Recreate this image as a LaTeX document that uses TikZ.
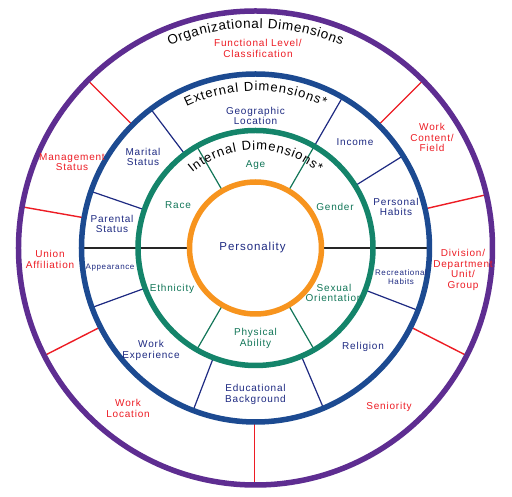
\documentclass[tikz,border=0pt]{standalone}
\usepackage{fontspec}
\setmainfont[LetterSpace=8]{Liberation Sans}
\newfontfamily\titlefont{Liberation Sans}
\usetikzlibrary{decorations.text}
\definecolor{ringpurple}{RGB}{94,45,145}
\definecolor{ringblue}{RGB}{28,74,145}
\definecolor{ringgreen}{RGB}{20,132,106}
\definecolor{ringorange}{RGB}{247,148,30}
\definecolor{labred}{RGB}{237,28,36}
\definecolor{labnavy}{RGB}{30,42,130}
\definecolor{labgreen}{RGB}{18,118,88}
\tikzset{
  ring/.style={line width=5.5pt},
  blackdiv/.style={draw=black!85, line width=1.2pt},
  greendiv/.style={draw=labgreen, line width=1.2pt},
  navydiv/.style={draw=labnavy, line width=1.2pt},
  reddiv/.style={draw=labred, line width=1.4pt},
  lab/.style={align=center, font=\fontsize{10}{10.5}\selectfont, inner sep=0pt},
  smalllab/.style={align=center, font=\fontsize{8}{9}\selectfont, inner sep=0pt},
  inlab/.style={lab, text=labgreen},
  midlab/.style={lab, text=labnavy},
  outlab/.style={lab, text=labred},
}
\begin{document}
\begin{tikzpicture}[x=1pt,y=1pt]
\useasboundingbox (-255.5,-249) rectangle (256.5,248);
\fill[white] (-255.5,-249) rectangle (256.5,248);
% divider lines
\foreach \a in {0,180} \draw[blackdiv] (\a:66) -- (\a:174);
\foreach \a in {60,120,240,300} \draw[greendiv] (\a:66) -- (\a:117.5);
\foreach \a in {32,60,127,161,200,249,293,339} \draw[navydiv] (\a:117.5) -- (\a:174);
\foreach \a in {13,45,135,170,207,333} \draw[reddiv] (\a:174) -- (\a:237);
\draw[reddiv] (-1.2,-174) -- (-1.2,-237);
% rings
\draw[ring, ringpurple] (0,0) circle[radius=237];
\draw[ring, ringblue] (0,0) circle[radius=174];
\draw[ring, ringgreen] (0,0) circle[radius=117.5];
\draw[ring, ringorange] (0,0) circle[radius=66];
% titles along arcs
\path[decorate, decoration={text along path, text={|\titlefont\fontsize{13.5}{13.5}\selectfont|Organizational Dimensions}, text align=fit to path}]
  (113:220) arc[start angle=113, end angle=67, radius=220];
\path[decorate, decoration={text along path, text={|\titlefont\fontsize{13}{13}\selectfont|External Dimensions*}, text align=fit to path}]
  (116:157) arc[start angle=116, end angle=64, radius=157];
\path[decorate, decoration={text along path, text={|\titlefont\fontsize{13}{13}\selectfont|Internal Dimensions*}, text align=fit to path}]
  (130:98) arc[start angle=130, end angle=50, radius=98];
% centre
\node[lab, text=labnavy, font=\fontsize{11.5}{12}\selectfont] (personality) at (-3,0) {Personality};
% internal
\node[inlab] (age) at (0,83) {Age};
\node[inlab] (race) at (-77.5,43) {Race};
\node[inlab] (gender) at (79.5,41) {Gender};
\node[inlab] (ethnicity) at (-83.5,-41) {Ethnicity};
\node[inlab] (sexual) at (78.5,-45) {Sexual\\Orientation};
\node[inlab] (physical) at (0,-90.5) {Physical\\Ability};
% external
\node[midlab] (geo) at (0,132) {Geographic\\Location};
\node[midlab] (income) at (99.5,106) {Income};
\node[midlab] (marital) at (-112.5,91) {Marital\\Status};
\node[midlab] (parental) at (-143.5,24) {Parental\\Status};
\node[smalllab, text=labnavy] (appearance) at (-145.5,-20) {Appearance};
\node[midlab] (workexp) at (-104.5,-102.5) {Work\\Experience};
\node[midlab] (edu) at (0,-146.5) {Educational\\Background};
\node[midlab] (religion) at (107.5,-99) {Religion};
\node[smalllab, text=labnavy] (recreational) at (145.5,-29.5) {Recreational\\Habits};
\node[midlab] (personal) at (140.5,41) {Personal\\Habits};
% organizational
\node[outlab] (functional) at (2.5,199.5) {Functional Level/\\Classification};
\node[outlab] (workcontent) at (176.5,110.5) {Work\\Content/\\Field};
\node[outlab] (management) at (-183.5,86) {Management\\Status};
\node[outlab] (union) at (-205.5,-11.5) {Union\\Affiliation};
\node[outlab] (division) at (207.5,-22) {Division/\\Department\\Unit/\\Group};
\node[outlab] (worklocation) at (-127.5,-160.5) {Work\\Location};
\node[outlab] (seniority) at (133.5,-159) {Seniority};
\end{tikzpicture}
\end{document}
